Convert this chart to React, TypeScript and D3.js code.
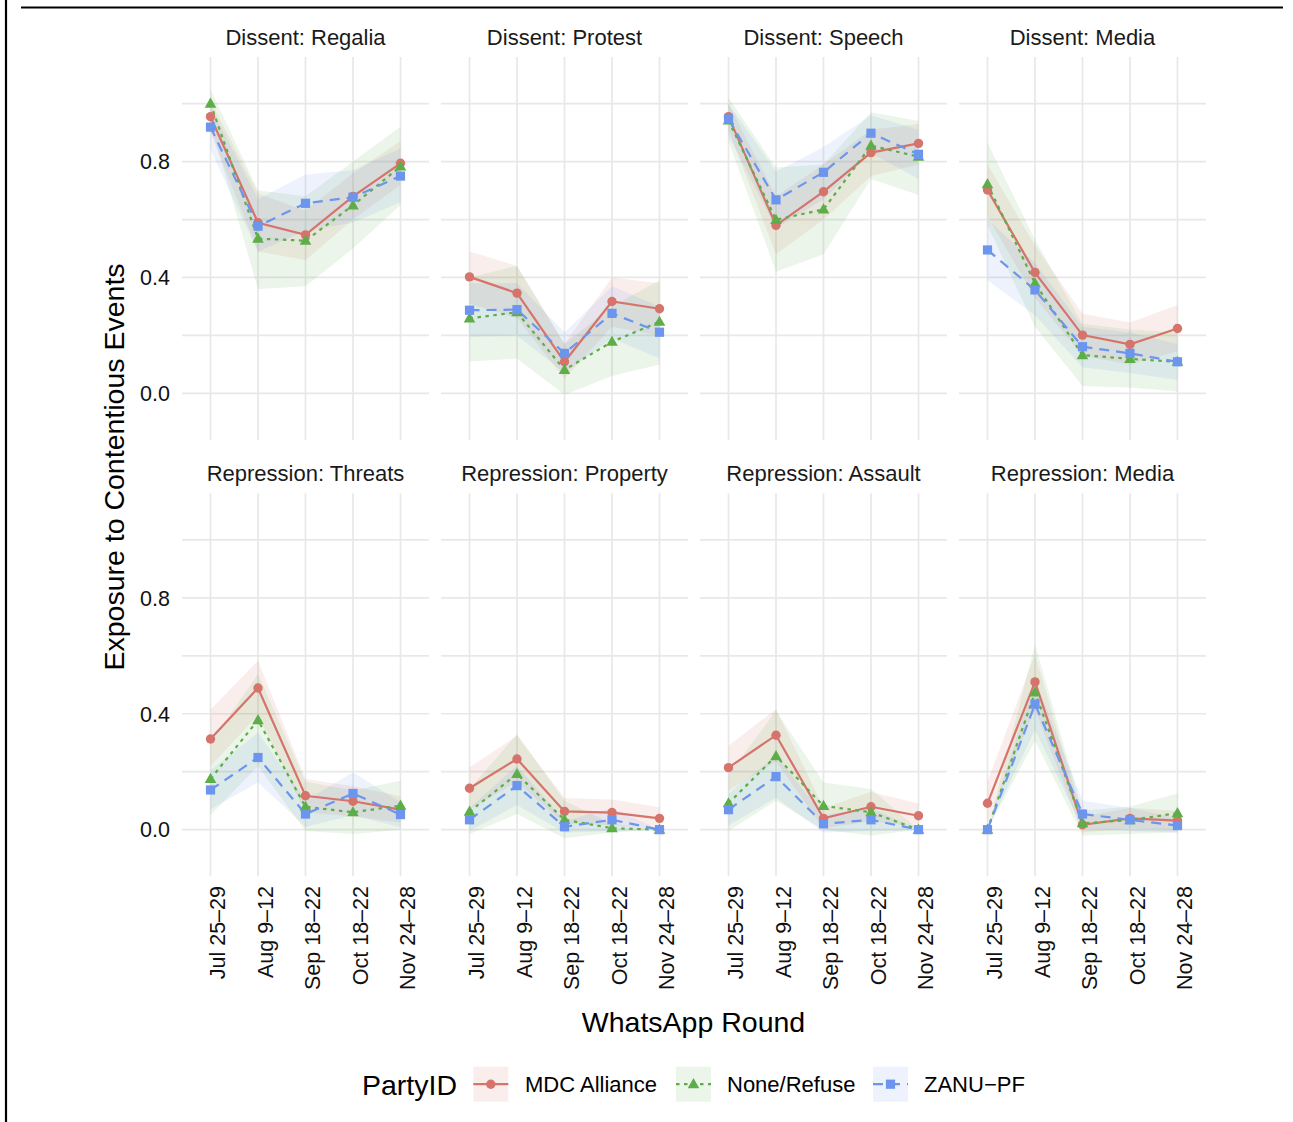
import React from "react";
import * as d3 from "d3";

// ---------- data ----------
const rounds = ["Jul 25–29", "Aug 9–12", "Sep 18–22", "Oct 18–22", "Nov 24–28"];
const panelTitles = [
  "Dissent: Regalia", "Dissent: Protest", "Dissent: Speech", "Dissent: Media",
  "Repression: Threats", "Repression: Property", "Repression: Assault", "Repression: Media",
];
const parties = ["MDC Alliance", "None/Refuse", "ZANU−PF"];
const yTicks = [0, 0.4, 0.8];
const yMinorTicks = [0.2, 0.6, 1.0];

const mdcMean = [
  [0.955, 0.589, 0.547, 0.680, 0.794],
  [0.402, 0.346, 0.109, 0.317, 0.292],
  [0.955, 0.580, 0.696, 0.831, 0.863],
  [0.702, 0.417, 0.201, 0.169, 0.224],
  [0.313, 0.489, 0.117, 0.098, 0.069],
  [0.143, 0.244, 0.063, 0.059, 0.039],
  [0.214, 0.326, 0.039, 0.079, 0.048],
  [0.091, 0.510, 0.017, 0.039, 0.031],
];
const mdcLower = [
  [0.90, 0.49, 0.46, 0.60, 0.72],
  [0.31, 0.26, 0.05, 0.23, 0.20],
  [0.91, 0.48, 0.60, 0.75, 0.79],
  [0.61, 0.33, 0.13, 0.10, 0.145],
  [0.22, 0.395, 0.06, 0.045, 0.025],
  [0.07, 0.165, 0.02, 0.015, 0.005],
  [0.135, 0.235, 0.005, 0.03, 0.01],
  [0.02, 0.415, -0.01, 0.005, 0.0],
];
const mdcUpper = [
  [1.01, 0.69, 0.63, 0.76, 0.87],
  [0.49, 0.44, 0.17, 0.40, 0.38],
  [1.00, 0.68, 0.79, 0.91, 0.93],
  [0.79, 0.51, 0.275, 0.245, 0.305],
  [0.415, 0.583, 0.175, 0.15, 0.115],
  [0.215, 0.324, 0.109, 0.104, 0.077],
  [0.29, 0.416, 0.075, 0.13, 0.09],
  [0.165, 0.605, 0.045, 0.075, 0.065],
];

const noneMean = [
  [1.0, 0.534, 0.527, 0.649, 0.783],
  [0.259, 0.280, 0.081, 0.178, 0.247],
  [0.942, 0.599, 0.635, 0.855, 0.817],
  [0.722, 0.380, 0.132, 0.119, 0.109],
  [0.175, 0.378, 0.079, 0.060, 0.083],
  [0.062, 0.192, 0.034, 0.005, 0.0],
  [0.091, 0.254, 0.082, 0.060, 0.0],
  [0.0, 0.474, 0.022, 0.033, 0.057],
];
const noneLower = [
  [0.93, 0.36, 0.37, 0.50, 0.65],
  [0.11, 0.12, -0.005, 0.06, 0.10],
  [0.87, 0.42, 0.48, 0.74, 0.685],
  [0.58, 0.23, 0.025, 0.02, 0.006],
  [0.05, 0.22, -0.005, -0.015, 0.0],
  [-0.015, 0.054, -0.03, -0.01, 0.0],
  [-0.005, 0.10, 0.0, -0.02, 0.0],
  [0.0, 0.307, -0.02, -0.015, -0.01],
];
const noneUpper = [
  [1.05, 0.70, 0.68, 0.80, 0.92],
  [0.40, 0.44, 0.17, 0.30, 0.39],
  [1.02, 0.78, 0.79, 0.97, 0.94],
  [0.865, 0.53, 0.24, 0.22, 0.21],
  [0.30, 0.537, 0.165, 0.135, 0.169],
  [0.14, 0.33, 0.10, 0.02, 0.0],
  [0.19, 0.41, 0.163, 0.14, 0.0],
  [0.0, 0.64, 0.065, 0.08, 0.125],
];

const zanuMean = [
  [0.919, 0.577, 0.656, 0.677, 0.750],
  [0.287, 0.289, 0.138, 0.276, 0.211],
  [0.947, 0.668, 0.763, 0.898, 0.825],
  [0.495, 0.357, 0.161, 0.138, 0.109],
  [0.137, 0.249, 0.054, 0.125, 0.052],
  [0.034, 0.152, 0.010, 0.034, 0.0],
  [0.069, 0.183, 0.020, 0.034, 0.0],
  [0.0, 0.433, 0.054, 0.034, 0.014],
];
const zanuLower = [
  [0.84, 0.49, 0.56, 0.59, 0.66],
  [0.195, 0.20, 0.07, 0.19, 0.12],
  [0.89, 0.57, 0.67, 0.83, 0.74],
  [0.39, 0.27, 0.09, 0.07, 0.046],
  [0.07, 0.163, 0.01, 0.05, 0.008],
  [-0.005, 0.085, -0.01, -0.005, 0.0],
  [0.015, 0.11, -0.01, -0.005, 0.0],
  [0.0, 0.345, 0.005, -0.005, -0.01],
];
const zanuUpper = [
  [0.99, 0.67, 0.755, 0.77, 0.845],
  [0.38, 0.38, 0.21, 0.37, 0.30],
  [1.00, 0.765, 0.85, 0.96, 0.91],
  [0.60, 0.45, 0.23, 0.21, 0.17],
  [0.205, 0.335, 0.10, 0.198, 0.095],
  [0.075, 0.22, 0.03, 0.075, 0.0],
  [0.125, 0.255, 0.05, 0.075, 0.0],
  [0.0, 0.52, 0.10, 0.075, 0.04],
];

// ---------- styles ----------
const partyColors = ["#D6736B", "#5DAE48", "#6C95EE"];
const partyDash = ["none", "3.5,4.5", "10,7"];
const FONT = "'Liberation Sans', Arial, Helvetica, sans-serif";
const GRID = "#E8E8E8";

const W = 1293, H = 1122;
const panelW = 247, panelH = 383;
const panelXs = [182, 441, 700, 959];
const panelYs = [57, 493.3];

const series = [
  { mean: mdcMean, lo: mdcLower, hi: mdcUpper },
  { mean: noneMean, lo: noneLower, hi: noneUpper },
  { mean: zanuMean, lo: zanuLower, hi: zanuUpper },
];

function Marker({ k, x, y, color }: { k: number; x: number; y: number; color: string }) {
  if (k === 0) return <circle cx={x} cy={y} r={4.7} fill={color} />;
  if (k === 1) {
    const s = 5.8;
    const p = `${x},${y - s * 1.05} ${x - s},${y + s * 0.7} ${x + s},${y + s * 0.7}`;
    return <polygon points={p} fill={color} />;
  }
  return <rect x={x - 4.6} y={y - 4.6} width={9.2} height={9.2} fill={color} />;
}

function Panel({ idx }: { idx: number }) {
  const col = idx % 4;
  const row = Math.floor(idx / 4);
  const px = panelXs[col];
  const py = panelYs[row];
  const x = d3.scalePoint<string>().domain(rounds).range([0, panelW]).padding(0.6);
  const y = d3.scaleLinear().domain([-0.161, 1.161]).range([panelH, 0]);
  const area = d3
    .area<[string, number, number]>()
    .x((d) => x(d[0]) as number)
    .y0((d) => y(d[1]))
    .y1((d) => y(d[2]));
  const line = d3
    .line<[string, number]>()
    .x((d) => x(d[0]) as number)
    .y((d) => y(d[1]));

  return (
    <g transform={`translate(${px},${py})`}>
      {[...yMinorTicks, ...yTicks].map((t) => (
        <line key={"h" + t} x1={0} x2={panelW} y1={y(t)} y2={y(t)} stroke={GRID} strokeWidth={1.7} />
      ))}
      {rounds.map((r) => (
        <line key={"v" + r} x1={x(r)} x2={x(r)} y1={0} y2={panelH} stroke={GRID} strokeWidth={1.7} />
      ))}
      {series.map((s, k) => (
        <path
          key={"rib" + k}
          d={area(rounds.map((r, i) => [r, s.lo[idx][i], s.hi[idx][i]])) || ""}
          fill={partyColors[k]}
          fillOpacity={0.12}
        />
      ))}
      {series.map((s, k) => (
        <path
          key={"ln" + k}
          d={line(rounds.map((r, i) => [r, s.mean[idx][i]])) || ""}
          fill="none"
          stroke={partyColors[k]}
          strokeWidth={2.2}
          strokeDasharray={partyDash[k]}
        />
      ))}
      {series.map((s, k) =>
        rounds.map((r, i) => (
          <Marker key={"m" + k + r} k={k} x={x(r) as number} y={y(s.mean[idx][i])} color={partyColors[k]} />
        ))
      )}
      <text
        x={panelW / 2}
        y={-12}
        textAnchor="middle"
        fontSize={22}
        fontFamily={FONT}
        fill="#1a1a1a"
      >
        {panelTitles[idx]}
      </text>
      {col === 0 &&
        yTicks.map((t) => (
          <text
            key={"yl" + t}
            x={-12}
            y={y(t)}
            dy="0.36em"
            textAnchor="end"
            fontSize={21.5}
            fontFamily={FONT}
            fill="#111"
          >
            {t.toFixed(1)}
          </text>
        ))}
      {row === 1 &&
        rounds.map((r) => (
          <text
            key={"xl" + r}
            transform={`translate(${(x(r) as number) + 14.8},${panelH + 9.7}) rotate(-90)`}
            textAnchor="end"
            fontSize={21.5}
            fontFamily={FONT}
            fill="#111"
          >
            {r}
          </text>
        ))}
    </g>
  );
}

function LegendKey({ k, x0, y0 }: { k: number; x0: number; y0: number }) {
  const size = 35;
  return (
    <g>
      <rect x={x0} y={y0} width={size} height={size} fill={partyColors[k]} fillOpacity={0.12} />
      <line
        x1={x0}
        x2={x0 + size}
        y1={y0 + size / 2}
        y2={y0 + size / 2}
        stroke={partyColors[k]}
        strokeWidth={2.2}
        strokeDasharray={partyDash[k]}
      />
      <Marker k={k} x={x0 + size / 2} y={y0 + size / 2} color={partyColors[k]} />
    </g>
  );
}

export default function App() {
  const keyXs = [473.3, 676, 873];
  const labelXs = [525, 727, 924];
  return (
    <svg
      width={W}
      height={H}
      viewBox={`0 0 ${W} ${H}`}
      style={{ position: "absolute", left: 0, top: 0, background: "#fff" }}
    >
      <rect x={0} y={0} width={W} height={H} fill="#fff" />
      <line x1={6} x2={6} y1={0} y2={H} stroke="#000" strokeWidth={2.2} />
      <line x1={21} x2={1283} y1={7.5} y2={7.5} stroke="#000" strokeWidth={2.2} />
      {panelTitles.map((_, i) => (
        <Panel key={i} idx={i} />
      ))}
      <text
        transform={`translate(124,467) rotate(-90)`}
        textAnchor="middle"
        fontSize={28.5}
        fontFamily={FONT}
        fill="#000"
      >
        Exposure to Contentious Events
      </text>
      <text x={693.5} y={1031.5} textAnchor="middle" fontSize={28.5} fontFamily={FONT} fill="#000">
        WhatsApp Round
      </text>
      <text x={362} y={1094.5} fontSize={28.5} fontFamily={FONT} fill="#000">
        PartyID
      </text>
      {parties.map((p, k) => (
        <g key={p}>
          <LegendKey k={k} x0={keyXs[k]} y0={1066.7} />
          <text x={labelXs[k]} y={1092} fontSize={22} fontFamily={FONT} fill="#000">
            {p}
          </text>
        </g>
      ))}
    </svg>
  );
}
